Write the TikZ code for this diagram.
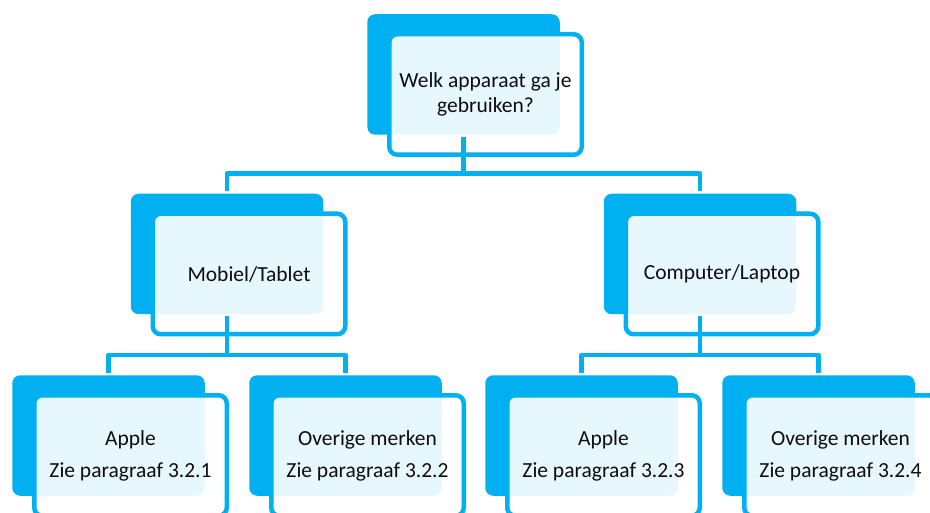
\documentclass[tikz,border=0pt]{standalone}
\usepackage{fontspec}
\setmainfont{Carlito}
\usetikzlibrary{positioning,shadows}
\definecolor{skyblue}{HTML}{00B0F0}

\begin{document}
\begin{tikzpicture}[x=1pt, y=1pt,
	box/.style={rectangle, draw=skyblue, line width=4.5pt, rounded corners=8pt,
		fill=white, fill opacity=0.9, text opacity=1, text=black!95,
		general shadow={fill=skyblue, fill opacity=1, shadow xshift=-22pt, shadow yshift=20pt},
		minimum width=192.5pt, minimum height=120.5pt, inner sep=0pt,
		align=center, font=\fontsize{21.5}{25}\selectfont},
	level distance=179.5pt,
	level 1/.style={sibling distance=473pt},
	level 2/.style={sibling distance=237pt, level distance=181.5pt},
	edge from parent/.style={draw=skyblue, line width=4.5pt, line join=round},
	edge from parent path={([xshift=-22pt,yshift=20pt]\tikzparentnode.south)
		|- ([xshift=-22pt,yshift=38pt]\tikzchildnode.north)
		-- ([xshift=-22pt,yshift=20pt]\tikzchildnode.north)}
	]
	\useasboundingbox (0,0) rectangle (930,-513);
	\clip (0,0) rectangle (930,-513);
	\node (q) [box] at (485.5,-94.5) {Welk apparaat ga je\\gebruiken?}
	child{
		node (mob) [box] {Mobiel/Tablet}
		child{
			node (mob1) [box] {Apple\\[7pt]Zie paragraaf 3.2.1}
		}
		child{
			node (mob2) [box] {Overige merken\\[7pt]Zie paragraaf 3.2.2}
		}
	}
	child{
		node (comp) [box] {Computer/Laptop}
		child{
			node (comp1) [box] {Apple\\[7pt]Zie paragraaf 3.2.3}
		}
		child{
			node (comp2) [box] {Overige merken\\[7pt]Zie paragraaf 3.2.4}
		}
	}
	;
\end{tikzpicture}
\end{document}
